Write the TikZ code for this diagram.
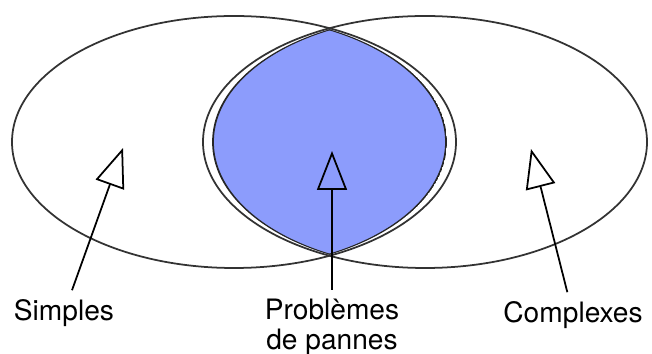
\documentclass[tikz,border=0pt]{standalone}
\usepackage{fontspec}
\setmainfont{TeX Gyre Heros}
\usetikzlibrary{arrows.meta}
\definecolor{lensblue}{RGB}{140,156,252}

\begin{document}
\begin{tikzpicture}[x=0.02cm, y=-0.02cm, line width=1pt,
    lbl/.style={font=\fontsize{16}{17}\selectfont, align=center, inner sep=1pt, outer sep=4pt},
    pointer/.style={-{Triangle[open, length=0.78cm, width=0.6cm]}}]
  \useasboundingbox (0,0) rectangle (652,354);

  % Inner lens (filled)
  \begin{scope}
    \clip (234,142) ellipse [x radius=212, y radius=126];
    \fill[lensblue] (425,142) ellipse [x radius=212, y radius=126];
  \end{scope}

  % Inner lens border
  \begin{scope}
    \clip (234,142) ellipse [x radius=213, y radius=126];
    \clip (425,142) ellipse [x radius=213, y radius=126];
    \draw[black!85] (234,142) ellipse [x radius=212, y radius=126];
    \draw[black!85] (425,142) ellipse [x radius=212, y radius=126];
  \end{scope}

  % Sets
  \draw[black!80] (234,142) ellipse [x radius=222, y radius=126];
  \draw[black!80] (425,142) ellipse [x radius=222, y radius=126];

  % Arrow tips
  \coordinate (tipS) at (123,148);
  \coordinate (tipP) at (332,151);
  \coordinate (tipC) at (531,149);

  % Labels
  \node[lbl, anchor=base] (simples) at (64,320) {Simples};
  \node[lbl, anchor=north] (pannes) at (332,290) {Problèmes\\de pannes};
  \node[lbl, anchor=base] (complexes) at (573,322) {Complexes};

  % Pointers
  \draw[pointer] (simples) -- (tipS);
  \draw[pointer] (pannes) -- (tipP);
  \draw[pointer] (complexes) -- (tipC);
\end{tikzpicture}
\end{document}
